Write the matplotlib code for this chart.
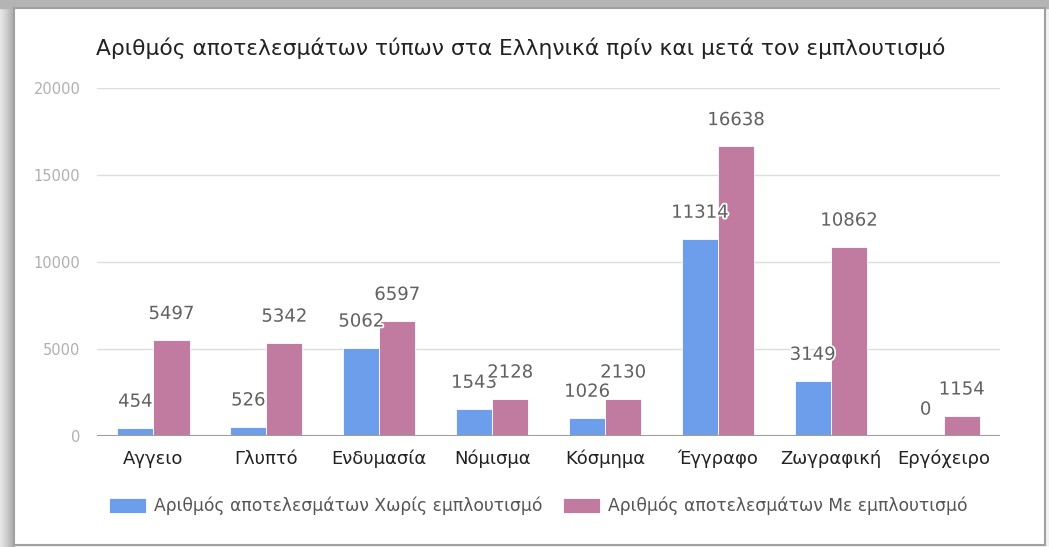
import numpy as np
import matplotlib.pyplot as plt
import matplotlib.patheffects as pe
from matplotlib.patches import Rectangle

categories = ["Αγγειο", "Γλυπτό", "Ενδυμασία", "Νόμισμα", "Κόσμημα", "Έγγραφο", "Ζωγραφική", "Εργόχειρο"]
without_enrich = [454, 526, 5062, 1543, 1026, 11314, 3149, 0]
with_enrich = [5497, 5342, 6597, 2128, 2130, 16638, 10862, 1154]
series_names = ["Αριθμός αποτελεσμάτων Χωρίς εμπλουτισμό", "Αριθμός αποτελεσμάτων Με εμπλουτισμό"]
title = "Αριθμός αποτελεσμάτων τύπων στα Ελληνικά πρίν και μετά τον εμπλουτισμό"

plt.rcParams["font.family"] = ["DejaVu Sans"]

W, H = 1049, 547
fig = plt.figure(figsize=(W / 100, H / 100), dpi=100)

# screenshot frame
fig.patches.append(Rectangle((0, 0), 1, 1, transform=fig.transFigure, color="#f2f2f2", zorder=-10))
for i, c in enumerate(["#e6e6e6", "#dedede", "#d6d6d6", "#cccccc", "#c2c2c2", "#b8b8b8", "#b0b0b0"]):
    fig.patches.append(Rectangle((i * 2 / W, 0), 2 / W, 1, transform=fig.transFigure, color=c, zorder=-9))
fig.patches.append(Rectangle((0, 1 - 8 / H), 1, 8 / H, transform=fig.transFigure, color="#b4b4b4", zorder=-8))
fig.patches.append(Rectangle((14 / W, 2 / H), 1031 / W, 537 / H, transform=fig.transFigure,
                             facecolor="white", edgecolor="#a0a0a0", lw=1.5, zorder=-7))

ax = fig.add_axes([97 / W, 1 - 436 / H, 903 / W, 348 / H])
x = np.arange(len(categories))
w = 0.32
blue, pink = "#6d9eeb", "#c27ba0"
b1 = ax.bar(x - w / 2, without_enrich, w, color=blue, edgecolor="white", lw=0.6, label=series_names[0], zorder=3)
b2 = ax.bar(x + w / 2, with_enrich, w, color=pink, edgecolor="white", lw=0.6, label=series_names[1], zorder=3)

halo = [pe.withStroke(linewidth=2.5, foreground="white")]
for bars, vals in [(b1, without_enrich), (b2, with_enrich)]:
    for b, v in zip(bars, vals):
        ax.annotate(str(v), (b.get_x() + b.get_width() / 2, v), xytext=(0, 19), textcoords="offset points",
                    ha="center", va="center", fontsize=13, color="#616161", path_effects=halo, zorder=5)

ax.set_xlim(-0.5, len(categories) - 0.5)
ax.set_ylim(0, 20000)
ax.set_yticks(range(0, 20001, 5000))
ax.grid(axis="y", color="#dddddd", lw=1, zorder=0)
ax.axhline(0, color="#9e9e9e", lw=1.5, zorder=4)
for s in ax.spines.values():
    s.set_visible(False)
ax.tick_params(axis="y", length=0, pad=12, labelsize=10.5, labelcolor="#b0b0b0")
ax.tick_params(axis="x", length=0, pad=10, labelsize=13, labelcolor="#222222")
ax.set_xticks(x)
ax.set_xticklabels(categories)

fig.text(96 / W, 1 - 48 / H, title, fontsize=15.7, color="#222222", va="center", ha="left")

leg = fig.legend(loc="center", bbox_to_anchor=(538 / W, 1 - 506 / H), ncol=2, frameon=False,
                 fontsize=12.3, labelcolor="#555555", handlelength=2.2, handleheight=1.0,
                 handletextpad=0.45, columnspacing=1.2)

fig.savefig("out.png", dpi=100)
